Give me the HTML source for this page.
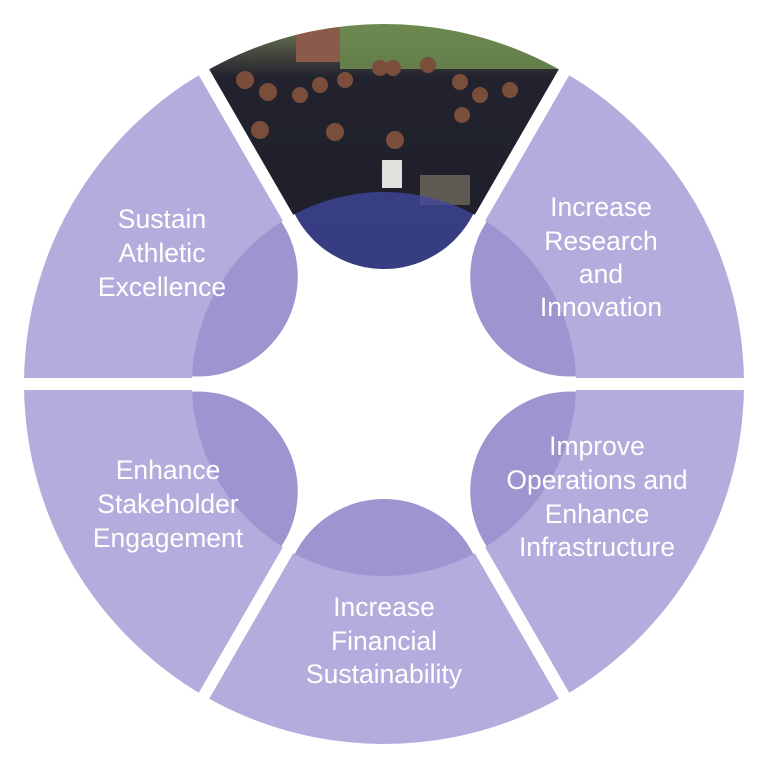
<!DOCTYPE html>
<html><head><style>
html,body{margin:0;padding:0;background:#fff;}
svg{display:block}
text{font-family:"Liberation Sans",sans-serif;font-size:26.5px;fill:#fff;text-anchor:middle}
</style></head><body>
<svg width="768" height="768" viewBox="0 0 768 768">
<defs>
<mask id="m">
  <rect width="768" height="768" fill="#000"/>
  <circle cx="384" cy="384" r="360" fill="#fff"/>
  <circle cx="384" cy="384" r="192" fill="#000"/>
  <circle cx="384" cy="169" r="100" fill="#fff"/>
  <circle cx="570.2" cy="276.5" r="100" fill="#fff"/>
  <circle cx="570.2" cy="491.5" r="100" fill="#fff"/>
  <circle cx="384" cy="599" r="100" fill="#fff"/>
  <circle cx="197.8" cy="491.5" r="100" fill="#fff"/>
  <circle cx="197.8" cy="276.5" r="100" fill="#fff"/>
</mask>
<clipPath id="inner"><circle cx="384" cy="384" r="192"/></clipPath>
<clipPath id="topsec"><path d="M384 384 L176 24 L592 24 Z"/></clipPath>
<linearGradient id="ph" x1="0" y1="0" x2="0" y2="1">
  <stop offset="0" stop-color="#6f8a55"/>
  <stop offset="0.12" stop-color="#4a4a40"/>
  <stop offset="0.22" stop-color="#22232e"/>
  <stop offset="1" stop-color="#1d1e28"/>
</linearGradient>
</defs>
<g mask="url(#m)">
  <rect width="768" height="768" fill="#b3acdd"/>
  <g clip-path="url(#inner)">
    <circle cx="384" cy="169" r="100" fill="#9d95d0"/>
    <circle cx="570.2" cy="276.5" r="100" fill="#9d95d0"/>
    <circle cx="570.2" cy="491.5" r="100" fill="#9d95d0"/>
    <circle cx="384" cy="599" r="100" fill="#9d95d0"/>
    <circle cx="197.8" cy="491.5" r="100" fill="#9d95d0"/>
    <circle cx="197.8" cy="276.5" r="100" fill="#9d95d0"/>
  </g>
  <g clip-path="url(#topsec)">
    <rect x="170" y="20" width="430" height="260" fill="url(#ph)"/>
    <rect x="296" y="26" width="44" height="36" fill="#8a5a4a"/>
    <rect x="340" y="24" width="220" height="45" fill="#6d8c50" opacity="0.85"/>
    <g fill="#7a4e3a">
      <circle cx="245" cy="80" r="9"/><circle cx="268" cy="92" r="9"/><circle cx="300" cy="95" r="8"/>
      <circle cx="320" cy="85" r="8"/><circle cx="345" cy="80" r="8"/><circle cx="380" cy="68" r="8"/>
      <circle cx="393" cy="68" r="8"/><circle cx="428" cy="65" r="8"/><circle cx="460" cy="82" r="8"/>
      <circle cx="480" cy="95" r="8"/><circle cx="510" cy="90" r="8"/><circle cx="260" cy="130" r="9"/>
      <circle cx="335" cy="132" r="9"/><circle cx="395" cy="140" r="9"/><circle cx="462" cy="115" r="8"/>
    </g>
    <rect x="382" y="160" width="20" height="28" fill="#e0e0dc"/>
    <rect x="420" y="175" width="50" height="30" fill="#8a8070" opacity="0.6"/>
    <g clip-path="url(#inner)">
      <circle cx="384" cy="169" r="100" fill="#4048a0" opacity="0.75"/>
    </g>
  </g>
</g>
<g stroke="#fff" stroke-width="12">
  <line x1="384" y1="384" x2="199" y2="63.6"/>
  <line x1="384" y1="384" x2="569" y2="63.6"/>
  <line x1="384" y1="384" x2="754" y2="384"/>
  <line x1="384" y1="384" x2="569" y2="704.4"/>
  <line x1="384" y1="384" x2="199" y2="704.4"/>
  <line x1="384" y1="384" x2="14" y2="384"/>
</g>
<g style="font-size:26px;fill:#f6f6f8">
  <text x="384" y="357">Elevate</text>
  <text x="384" y="390">Academic</text>
  <text x="384" y="423">Excellence</text>
</g>
<text x="162" y="228">Sustain</text>
<text x="162" y="262">Athletic</text>
<text x="162" y="296">Excellence</text>
<text x="601" y="216">Increase</text>
<text x="601" y="250">Research</text>
<text x="601" y="283">and</text>
<text x="601" y="316">Innovation</text>
<text x="597" y="455">Improve</text>
<text x="597" y="489">Operations and</text>
<text x="597" y="523">Enhance</text>
<text x="597" y="556">Infrastructure</text>
<text x="384" y="616">Increase</text>
<text x="384" y="650">Financial</text>
<text x="384" y="683">Sustainability</text>
<text x="168" y="479">Enhance</text>
<text x="168" y="513">Stakeholder</text>
<text x="168" y="547">Engagement</text>
</svg>
</body></html>
